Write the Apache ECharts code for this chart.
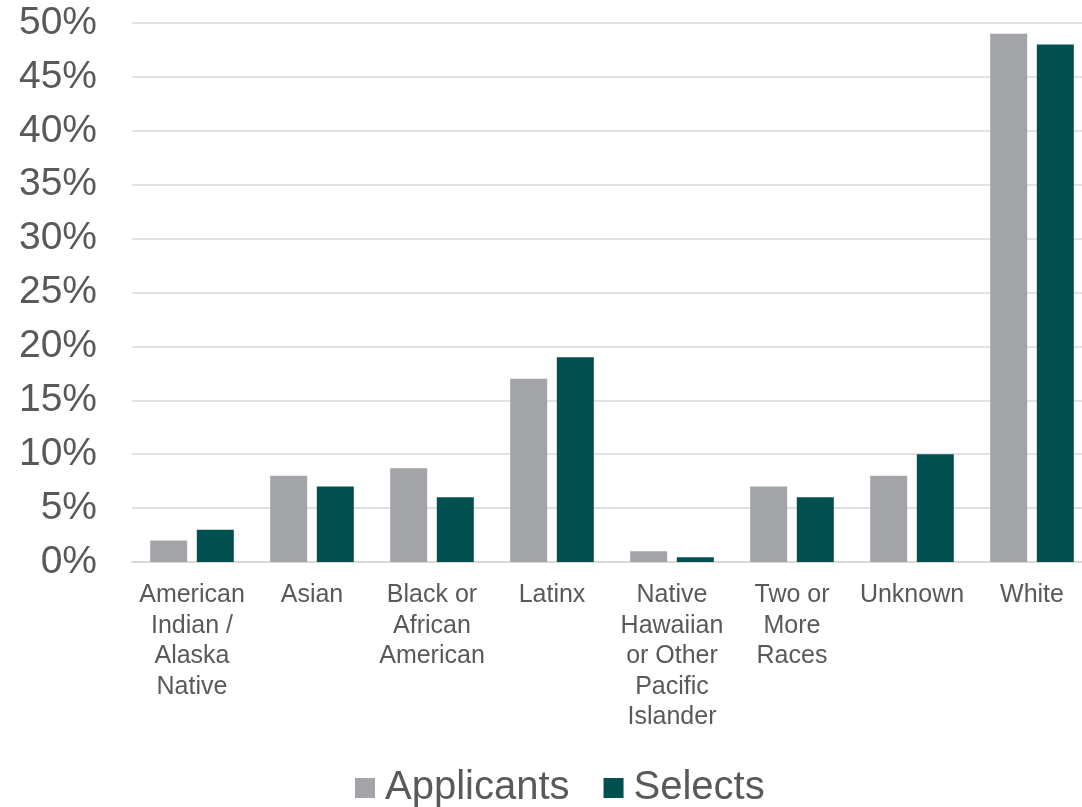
<!DOCTYPE html>
<html>
<head>
<meta charset="utf-8">
<script src="https://cdn.jsdelivr.net/npm/echarts@6/dist/echarts.min.js"></script>
<style>
  html, body { margin: 0; padding: 0; background: #fff; }
  #chart { width: 1082px; height: 807px; }
</style>
</head>
<body>
<div id="chart"></div>
<script>
const categories = [
  'American\nIndian /\nAlaska\nNative',
  'Asian',
  'Black or\nAfrican\nAmerican',
  'Latinx',
  'Native\nHawaiian\nor Other\nPacific\nIslander',
  'Two or\nMore\nRaces',
  'Unknown',
  'White'
];
const applicants = [2, 8, 8.7, 17, 1, 7, 8, 49];
const selects = [3, 7, 6, 19, 0.45, 6, 10, 48];

const textColor = '#595959';
const font = 'Liberation Sans, Arial, sans-serif';

const myChart = echarts.init(document.getElementById('chart'));
myChart.setOption({
  animation: false,
  // plot area runs a bit past the right edge, as in the source image
  grid: { left: 132, width: 960, top: 23, bottom: 245, outerBoundsMode: 'none' },
  legend: {
    data: ['Applicants', 'Selects'],
    top: 763,
    left: 350,
    itemWidth: 20,
    itemHeight: 20,
    itemGap: 34,
    icon: 'rect',
    textStyle: { color: textColor, fontSize: 40, fontFamily: font, padding: [0, 0, 0, 5] }
  },
  xAxis: {
    type: 'category',
    data: categories,
    axisLine: { lineStyle: { color: '#d9d9d9', width: 2 } },
    axisTick: { show: false },
    axisLabel: {
      interval: 0,
      color: textColor,
      fontSize: 25,
      lineHeight: 30.5,
      fontFamily: font,
      margin: 18,
      align: 'center'
    }
  },
  yAxis: {
    type: 'value',
    min: 0,
    max: 50,
    interval: 5,
    axisLine: { show: false },
    axisTick: { show: false },
    splitLine: { lineStyle: { color: '#d9d9d9', width: 1.5 } },
    axisLabel: {
      formatter: '{value}%',
      color: textColor,
      fontSize: 39,
      fontFamily: font,
      margin: 35
    }
  },
  series: [
    {
      name: 'Applicants',
      type: 'bar',
      data: applicants,
      barWidth: 37,
      barGap: '26%',
      itemStyle: { color: '#a3a4a7' }
    },
    {
      name: 'Selects',
      type: 'bar',
      data: selects,
      barWidth: 37,
      itemStyle: { color: '#00504f' }
    }
  ]
});
</script>
</body>
</html>
